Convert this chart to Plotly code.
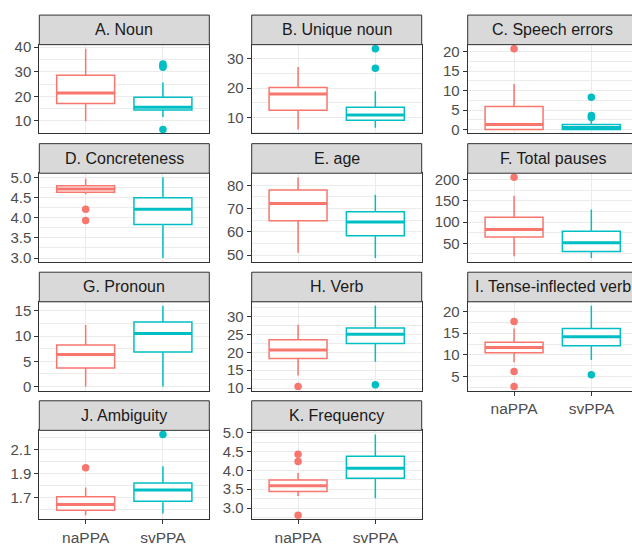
import plotly.graph_objects as go

# ---------------- data ----------------
titles = ["A. Noun", "B. Unique noun", "C. Speech errors", "D. Concreteness", "E. age",
          "F. Total pauses", "G. Pronoun", "H. Verb", "I. Tense-inflected verb",
          "J. Ambiguity", "K. Frequency"]
groups = ["naPPA", "svPPA"]

na_low  = [9.8, 6.0, 0.0, 4.58, 51.0, 19.3, 0.0, 13.5, 8.3, 1.555, 3.32]
na_q1   = [17.1, 12.5, 0.0, 4.63, 64.8, 64.8, 3.66, 18.3, 10.5, 1.596, 3.44]
na_med  = [21.4, 18.0, 1.3, 4.71, 72.2, 82.3, 6.34, 20.7, 11.7, 1.645, 3.59]
na_q3   = [28.6, 20.2, 5.9, 4.79, 78.0, 111.5, 8.24, 23.6, 12.9, 1.708, 3.745]
na_high = [39.4, 27.1, 11.7, 4.97, 83.5, 161.7, 12.2, 27.8, 16.1, 1.787, 3.93]
na_out  = [[], [], [20.8], [3.93, 4.21], [], [205.5], [], [10.4],
           [2.7, 6.2, 17.7], [1.952], [2.81, 4.24, 4.43]]

sv_low  = [11.6, 6.6, 0.0, 3.0, 48.7, 15.4, 0.0, 17.4, 8.8, 1.568, 3.26]
sv_q1   = [14.4, 9.1, 0.0, 3.83, 58.3, 30.8, 6.87, 22.5, 12.1, 1.672, 3.79]
sv_med  = [15.5, 10.9, 0.5, 4.21, 64.2, 51.5, 10.5, 25.1, 14.2, 1.766, 4.06]
sv_q3   = [19.6, 13.5, 1.3, 4.49, 68.6, 78.5, 12.8, 26.9, 16.1, 1.823, 4.38]
sv_high = [25.6, 18.9, 2.2, 5.0, 76.0, 129.4, 16.0, 33.1, 21.3, 1.963, 4.96]
sv_out  = [[6.5, 31.8, 32.5, 33.2], [26.7, 33.3], [3.1, 3.6, 8.3], [], [], [], [],
           [10.9], [5.4], [2.23], []]

y_ticks = [[10, 20, 30, 40], [10, 20, 30], [0, 5, 10, 15, 20],
           [3.0, 3.5, 4.0, 4.5, 5.0], [50, 60, 70, 80], [50, 100, 150, 200],
           [0, 5, 10, 15], [10, 15, 20, 25, 30], [5, 10, 15, 20],
           [1.7, 1.9, 2.1], [3.0, 3.5, 4.0, 4.5, 5.0]]

# ---------------- style / geometry ----------------
W, H = 632, 546
col_left = [39.3, 251.7, 467.7]
panel_w = 170.0
row_top = [9.3, 141.0, 272.7, 404.4]
strip_h = 30.3
plot_h = 91.0
colors = ["#F8766D", "#00BFC4"]
FONT = "Liberation Sans, Arial, sans-serif"
GRID = "#EBEBEB"
BORDER = "#333333"
BOX_HALF = 0.375
bottom_panels = {8, 9, 10}
YTICK_SIZE = 15
XTICK_SIZE = 15.5
STRIP_SIZE = 16

fig = go.Figure()
layout = dict(width=W, height=H, margin=dict(l=0, r=0, t=0, b=0),
              plot_bgcolor="white", paper_bgcolor="white", showlegend=False,
              font=dict(family=FONT), shapes=[], annotations=[])

for k, title in enumerate(titles):
    row, col = divmod(k, 3)
    xa = "x" if k == 0 else f"x{k+1}"
    ya = "y" if k == 0 else f"y{k+1}"
    x0 = col_left[col]
    x1 = min(x0 + panel_w, W)
    frac = (x1 - x0) / panel_w
    ytop = row_top[row] + strip_h
    ybot = ytop + plot_h

    stats = [
        (na_low[k], na_q1[k], na_med[k], na_q3[k], na_high[k], na_out[k]),
        (sv_low[k], sv_q1[k], sv_med[k], sv_q3[k], sv_high[k], sv_out[k]),
    ]
    allv = []
    for g, (lo, q1, med, q3, hi, out) in enumerate(stats):
        c = colors[g]
        allv += [lo, hi] + list(out)
        fig.add_trace(go.Box(x=[g], q1=[q1], median=[med], q3=[q3],
                             lowerfence=[lo], upperfence=[hi], width=2 * BOX_HALF,
                             whiskerwidth=0, fillcolor="white",
                             line=dict(color=c, width=1.5), boxpoints=False,
                             xaxis=xa, yaxis=ya, showlegend=False, hoverinfo="skip"))
        fig.add_trace(go.Scatter(x=[g - BOX_HALF, g + BOX_HALF], y=[med, med], mode="lines",
                                 line=dict(color=c, width=3), xaxis=xa, yaxis=ya,
                                 showlegend=False, hoverinfo="skip"))
        if out:
            fig.add_trace(go.Scatter(x=[g] * len(out), y=out, mode="markers",
                                     marker=dict(color=c, size=7.5, line=dict(width=0)),
                                     xaxis=xa, yaxis=ya, showlegend=False, hoverinfo="skip"))
    lo_v, hi_v = min(allv), max(allv)
    pad = 0.05 * (hi_v - lo_v)
    ticks = y_ticks[k]
    step = ticks[1] - ticks[0]
    dec = any(abs(t - round(t)) > 1e-9 for t in ticks)
    ticktext = [f"{t:.1f}" if dec else f"{int(round(t))}" for t in ticks]
    bottom = k in bottom_panels

    layout["xaxis" if k == 0 else f"xaxis{k+1}"] = dict(
        domain=[x0 / W, x1 / W], anchor=ya, range=[-0.6, -0.6 + 2.2 * frac],
        tickmode="array", tickvals=[0, 1], ticktext=groups,
        showgrid=True, gridcolor=GRID, gridwidth=1.3, zeroline=False,
        showline=True, linecolor=BORDER, linewidth=1, mirror=True,
        ticks="outside" if bottom else "", ticklen=4, tickcolor=BORDER, tickwidth=1,
        showticklabels=bottom, tickfont=dict(family=FONT, size=XTICK_SIZE, color="#4D4D4D"),
        fixedrange=True)
    layout["yaxis" if k == 0 else f"yaxis{k+1}"] = dict(
        domain=[1 - ybot / H, 1 - ytop / H], anchor=xa, range=[lo_v - pad, hi_v + pad],
        tickmode="array", tickvals=ticks, ticktext=ticktext,
        showgrid=True, gridcolor=GRID, gridwidth=1.3, zeroline=False,
        minor=dict(tickmode="linear", tick0=ticks[0], dtick=step / 2, showgrid=True,
                   gridcolor=GRID, gridwidth=0.7, ticks=""),
        showline=True, linecolor=BORDER, linewidth=1, mirror=(col != 2),
        ticks="outside", ticklen=4, tickcolor=BORDER, tickwidth=1,
        tickfont=dict(family=FONT, size=YTICK_SIZE, color="#4D4D4D"), fixedrange=True)

    # strip
    layout["shapes"].append(dict(type="rect", xref="paper", yref="paper",
                                 x0=x0 / W, x1=(x0 + panel_w) / W,
                                 y0=1 - (row_top[row] + strip_h) / H, y1=1 - row_top[row] / H,
                                 fillcolor="#D9D9D9", line=dict(color=BORDER, width=1),
                                 layer="above"))
    layout["annotations"].append(dict(text=title, xref="paper", yref="paper",
                                      x=(x0 + panel_w / 2) / W,
                                      y=1 - (row_top[row] + strip_h / 2) / H,
                                      xanchor="center", yanchor="middle", showarrow=False,
                                      font=dict(family=FONT, size=STRIP_SIZE, color="#1A1A1A")))

fig.update_layout(**layout)
fig.write_html("out.html")
